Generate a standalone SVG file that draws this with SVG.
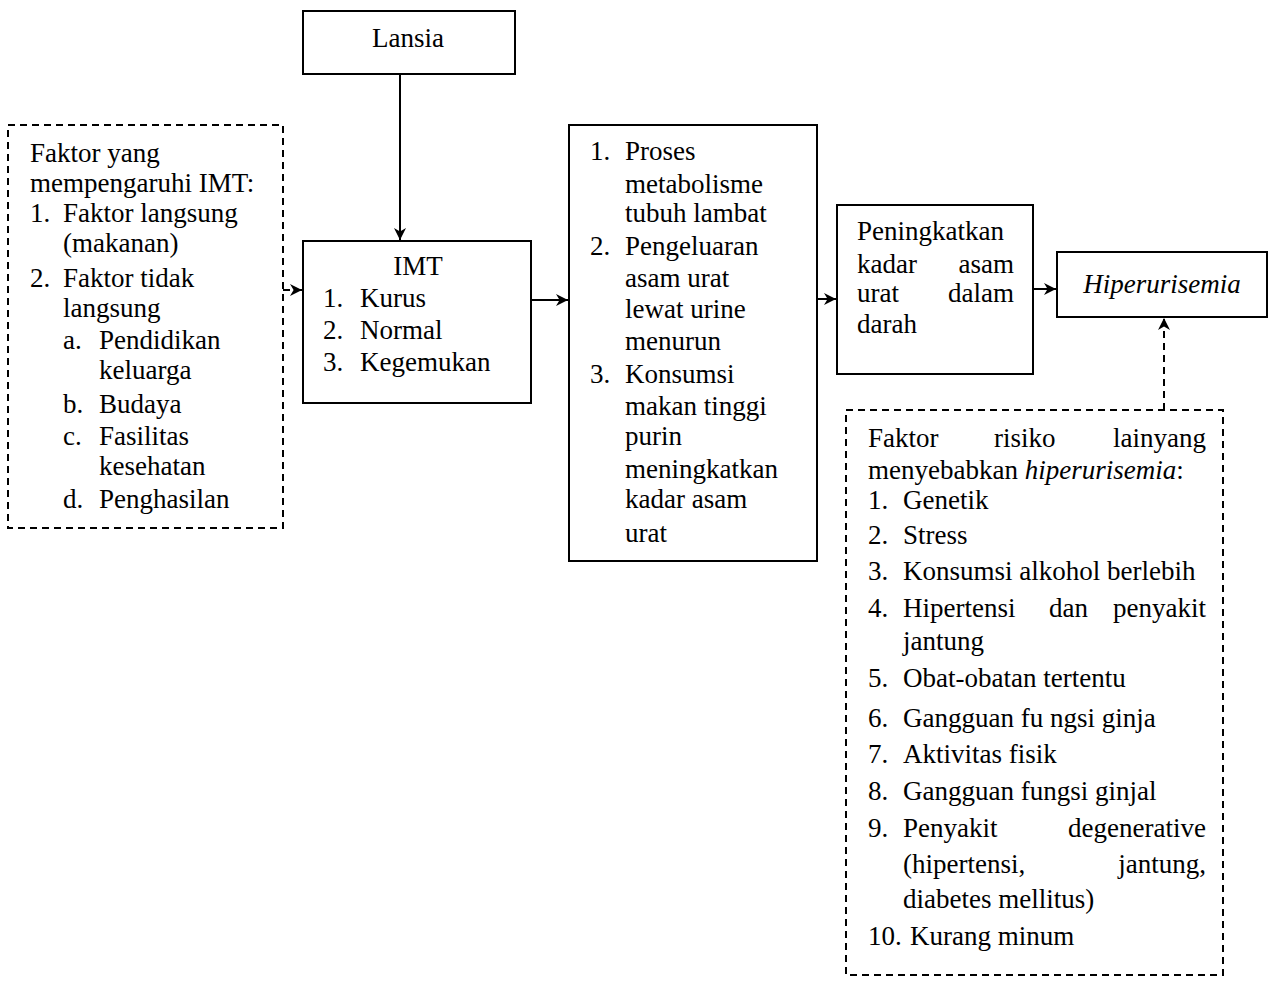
<svg xmlns="http://www.w3.org/2000/svg" width="1274" height="982" viewBox="0 0 1274 982">
<defs>
<style>
.box{fill:#fff;stroke:#000;stroke-width:2}
.dbox{fill:none;stroke:#000;stroke-width:2;stroke-dasharray:7 5}
.ln{fill:none;stroke:#000;stroke-width:2}
.dln{fill:none;stroke:#000;stroke-width:2;stroke-dasharray:7 5}
text{font-family:"Liberation Serif","Times New Roman",serif;font-size:27px;fill:#000}
.it{font-style:italic}
.e{text-anchor:end}
.m{text-anchor:middle}
</style>
<marker id="ah" viewBox="0 0 10 10" refX="10" refY="5" markerWidth="6" markerHeight="6" orient="auto" markerUnits="strokeWidth">
<path d="M0,0 L10,5 L0,10 L3,5 z" fill="#000"/>
</marker>
</defs>
<rect width="1274" height="982" fill="#fff"/>

<g id="connectors">
<path class="ln" d="M400,74 V240" marker-end="url(#ah)"/>
<path class="dln" d="M283,290 H302" marker-end="url(#ah)"/>
<path class="ln" d="M531,300 H568" marker-end="url(#ah)"/>
<path class="ln" d="M817,299 H836" marker-end="url(#ah)"/>
<path class="ln" d="M1033,289 H1056" marker-end="url(#ah)"/>
<path class="dln" d="M1164,410 V318" marker-end="url(#ah)"/>
</g>

<g id="lansia">
<rect class="box" x="303" y="11" width="212" height="63"/>
<text class="m" x="408" y="47">Lansia</text>
</g>

<g id="faktor-imt">
<rect class="dbox" x="8" y="125" width="275" height="403"/>
<text x="30" y="162">Faktor yang</text>
<text x="30" y="192">mempengaruhi IMT:</text>
<text x="30" y="222">1.</text><text x="63" y="222">Faktor langsung</text>
<text x="63" y="252">(makanan)</text>
<text x="30" y="287">2.</text><text x="63" y="287">Faktor tidak</text>
<text x="63" y="317">langsung</text>
<text x="63" y="349">a.</text><text x="99" y="349">Pendidikan</text>
<text x="99" y="379">keluarga</text>
<text x="63" y="413">b.</text><text x="99" y="413">Budaya</text>
<text x="63" y="445">c.</text><text x="99" y="445">Fasilitas</text>
<text x="99" y="475">kesehatan</text>
<text x="63" y="508">d.</text><text x="99" y="508">Penghasilan</text>
</g>

<g id="imt">
<rect class="box" x="303" y="241" width="228" height="162"/>
<text class="m" x="418" y="275">IMT</text>
<text x="323" y="307">1.</text><text x="360" y="307">Kurus</text>
<text x="323" y="339">2.</text><text x="360" y="339">Normal</text>
<text x="323" y="371">3.</text><text x="360" y="371">Kegemukan</text>
</g>

<g id="proses">
<rect class="box" x="569" y="125" width="248" height="436"/>
<text x="590" y="160">1.</text><text x="625" y="160">Proses</text>
<text x="625" y="193">metabolisme</text>
<text x="625" y="222">tubuh lambat</text>
<text x="590" y="255">2.</text><text x="625" y="255">Pengeluaran</text>
<text x="625" y="287">asam urat</text>
<text x="625" y="318">lewat urine</text>
<text x="625" y="350">menurun</text>
<text x="590" y="383">3.</text><text x="625" y="383">Konsumsi</text>
<text x="625" y="415">makan tinggi</text>
<text x="625" y="445">purin</text>
<text x="625" y="478">meningkatkan</text>
<text x="625" y="508">kadar asam</text>
<text x="625" y="542">urat</text>
</g>

<g id="peningkatan">
<rect class="box" x="837" y="205" width="196" height="169"/>
<text x="857" y="240">Peningkatkan</text>
<text x="857" y="273">kadar</text><text class="e" x="1014" y="273">asam</text>
<text x="857" y="302">urat</text><text class="e" x="1014" y="302">dalam</text>
<text x="857" y="333">darah</text>
</g>

<g id="hiperurisemia">
<rect class="box" x="1057" y="252" width="210" height="65"/>
<text class="m it" x="1162" y="293">Hiperurisemia</text>
</g>

<g id="faktor-risiko">
<rect class="dbox" x="846" y="410" width="377" height="565"/>
<text x="868" y="447">Faktor</text><text x="994" y="447">risiko</text><text class="e" x="1206" y="447">lainyang</text>
<text x="868" y="479">menyebabkan <tspan class="it">hiperurisemia</tspan>:</text>
<text x="868" y="509">1.</text><text x="903" y="509">Genetik</text>
<text x="868" y="544">2.</text><text x="903" y="544">Stress</text>
<text x="868" y="580">3.</text><text x="903" y="580">Konsumsi alkohol berlebih</text>
<text x="868" y="617">4.</text><text x="903" y="617">Hipertensi</text><text x="1049" y="617">dan</text><text class="e" x="1206" y="617">penyakit</text>
<text x="903" y="650">jantung</text>
<text x="868" y="687">5.</text><text x="903" y="687">Obat-obatan tertentu</text>
<text x="868" y="727">6.</text><text x="903" y="727">Gangguan fu ngsi ginja</text>
<text x="868" y="763">7.</text><text x="903" y="763">Aktivitas fisik</text>
<text x="868" y="800">8.</text><text x="903" y="800">Gangguan fungsi ginjal</text>
<text x="868" y="837">9.</text><text x="903" y="837">Penyakit</text><text class="e" x="1206" y="837">degenerative</text>
<text x="903" y="873">(hipertensi,</text><text class="e" x="1206" y="873">jantung,</text>
<text x="903" y="908">diabetes mellitus)</text>
<text x="868" y="945">10.</text><text x="910" y="945">Kurang minum</text>
</g>
</svg>
